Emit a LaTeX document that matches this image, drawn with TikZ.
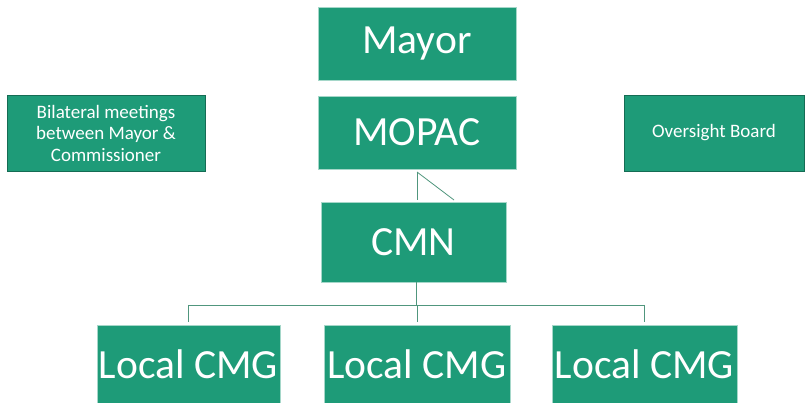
\documentclass[tikz,border=0pt]{standalone}
\usepackage{fontspec}
\setmainfont{Carlito}
\definecolor{boxgreen}{RGB}{30,155,120}
\definecolor{linegreen}{RGB}{80,150,125}

\begin{document}
\begin{tikzpicture}[x=1pt,y=-1pt,
  bigbox/.style={fill=boxgreen,draw=boxgreen!40!white,line width=0.6pt,text=white,inner sep=0pt,
    font=\fontsize{41.5}{48}\selectfont},
  smallbox/.style={fill=boxgreen,draw=boxgreen!70!black,line width=0.6pt,text=white,inner sep=0pt,
    align=center,font=\fontsize{19}{21.5}\selectfont},
  link/.style={draw=linegreen,line width=0.8pt}]
\useasboundingbox (0,0) rectangle (812,403);

\node [bigbox,minimum width=198,minimum height=73] (mayor) at (417,43.5) {Mayor};
\node [bigbox,minimum width=198,minimum height=73] (mopac) at (417,132.5) {MOPAC};
\node [bigbox,minimum width=185,minimum height=80] (cmn) at (413.5,242) {CMN};
\node [smallbox,minimum width=198,minimum height=76] (bilateral) at (106,133)
  {Bilateral meetings\\between Mayor \&\\Commissioner};
\node [smallbox,minimum width=180,minimum height=76] (oversight) at (714,133) {Oversight Board};

\node [bigbox,minimum width=183,minimum height=78] (cmg1) at (188.5,364) {Local CMG};
\node [bigbox,minimum width=186,minimum height=78] (cmg2) at (417,364) {Local CMG};
\node [bigbox,minimum width=185,minimum height=78] (cmg3) at (644.5,364) {Local CMG};

% MOPAC to CMN
\coordinate (split) at (417,172);
\draw [link] (split) -- (417,200);
\draw [link] (split) -- (454,200);

% CMN to the local groups
\coordinate (fork) at (416,305);
\draw [link] (cmn.south -| fork) -- (fork);
\draw [link] (fork -| cmg1) -- (fork -| cmg3);
\foreach \g in {cmg1,cmg2,cmg3}
  \draw [link] (fork -| \g) -- ([yshift=3]\g.north);

\end{tikzpicture}
\end{document}
